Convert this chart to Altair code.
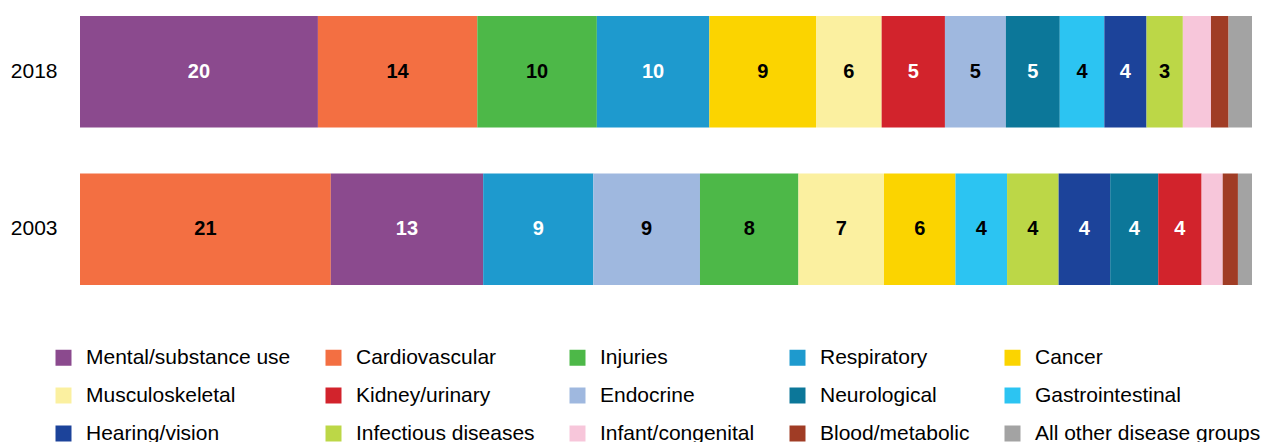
import altair as alt
import pandas as pd

categories = [
    "Mental/substance use", "Cardiovascular", "Injuries", "Respiratory", "Cancer",
    "Musculoskeletal", "Kidney/urinary", "Endocrine", "Neurological", "Gastrointestinal",
    "Hearing/vision", "Infectious diseases", "Infant/congenital", "Blood/metabolic",
    "All other disease groups",
]
colors = [
    "#8B4A8E", "#F36F42", "#4DB848", "#1E9ACE", "#FBD400",
    "#FBF0A0", "#D2232C", "#9FB8DF", "#0C7799", "#2CC4F2",
    "#1C439A", "#BCD747", "#F7C6DA", "#A03C25", "#A3A3A3",
]
white_text = ["Mental/substance use", "Respiratory", "Kidney/urinary", "Neurological", "Hearing/vision"]

years = ["2018", "2003"]

order_2018 = [
    "Mental/substance use", "Cardiovascular", "Injuries", "Respiratory", "Cancer",
    "Musculoskeletal", "Kidney/urinary", "Endocrine", "Neurological", "Gastrointestinal",
    "Hearing/vision", "Infectious diseases", "Infant/congenital", "Blood/metabolic",
    "All other disease groups",
]
values_2018 = [20.3, 13.6, 10.2, 9.6, 9.1, 5.6, 5.4, 5.2, 4.6, 3.8, 3.6, 3.1, 2.4, 1.5, 2.0]

order_2003 = [
    "Cardiovascular", "Mental/substance use", "Respiratory", "Endocrine", "Injuries",
    "Musculoskeletal", "Cancer", "Gastrointestinal", "Infectious diseases", "Hearing/vision",
    "Neurological", "Kidney/urinary", "Infant/congenital", "Blood/metabolic",
    "All other disease groups",
]
values_2003 = [21.4, 13.0, 9.4, 9.1, 8.4, 7.3, 6.1, 4.4, 4.4, 4.4, 4.1, 3.7, 1.8, 1.3, 1.2]

rows = []
for year, cats, vals in (("2018", order_2018, values_2018), ("2003", order_2003, values_2003)):
    for i, (c, v) in enumerate(zip(cats, vals)):
        rows.append({
            "year": year, "group": c, "value": v, "rank": i,
            "tc": "white" if c in white_text else "black",
        })
df = pd.DataFrame(rows)

FONT = "Liberation Sans"

base = alt.Chart(df).transform_stack(
    stack="value", groupby=["year"], sort=[alt.SortField("rank", order="ascending")], as_=["x0", "x1"]
).transform_calculate(
    mid="(datum.x0 + datum.x1) / 2",
    label="format(round(datum.value), 'd')",
)

xscale = alt.Scale(domain=[0, 100], nice=False, zero=True)
yenc = alt.Y(
    "year:N", sort=years,
    scale=alt.Scale(paddingInner=0.293, paddingOuter=0),
    axis=alt.Axis(title=None, domain=False, ticks=False, labelFontSize=21, labelFont=FONT,
                  labelColor="#000000", labelPadding=23),
)

bars = base.mark_bar().encode(
    x=alt.X("x0:Q", scale=xscale, axis=None),
    x2="x1:Q",
    y=yenc,
    color=alt.Color(
        "group:N",
        scale=alt.Scale(domain=categories, range=colors),
        legend=alt.Legend(
            title=None, orient="none", legendX=-27, legendY=331, columns=5,
            direction="horizontal",
            symbolType="square", symbolSize=256, symbolStrokeWidth=0,
            labelFontSize=21, labelFont=FONT, labelColor="#000000", labelOffset=12,
            rowPadding=16, columnPadding=32, labelLimit=400,
        ),
    ),
)

labels = base.transform_filter("round(datum.value) >= 3").mark_text(
    font=FONT, fontWeight="bold", fontSize=20, baseline="middle", align="center"
).encode(
    x=alt.X("mid:Q", scale=xscale, axis=None),
    y=yenc,
    text="label:N",
    color=alt.Color("tc:N", scale=None),
)

chart = alt.layer(bars, labels).resolve_scale(color="independent").properties(
    width=1172, height=269,
    padding={"left": 2, "top": 8, "right": 0, "bottom": 0},
).configure_view(stroke=None)

chart.save("out.html", embed_options={"renderer": "svg", "actions": False})
